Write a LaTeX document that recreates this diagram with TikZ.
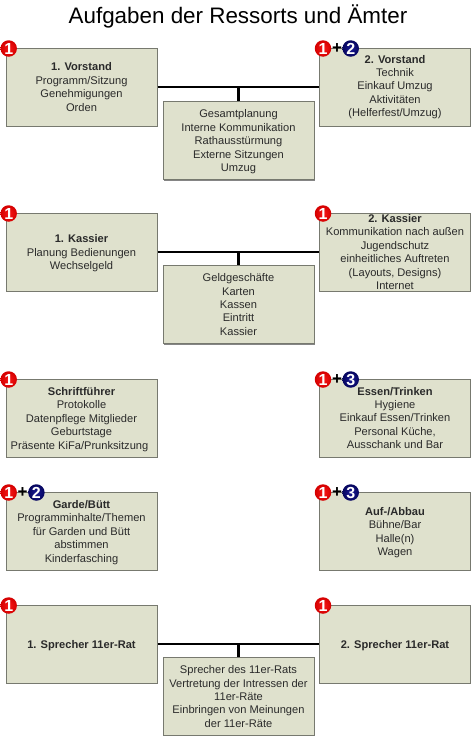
\documentclass[tikz,border=0pt]{standalone}
\usepackage{fontspec}
\setmainfont{Liberation Sans}
\usetikzlibrary{shadows}
\definecolor{boxfill}{HTML}{DFE1CD}
\definecolor{boxedge}{HTML}{77796F}
\definecolor{txt}{HTML}{2A2A2A}
\definecolor{navyin}{HTML}{1A1A96}
\definecolor{navyout}{HTML}{06065E}
\definecolor{redin}{HTML}{F81818}
\definecolor{redout}{HTML}{D40000}
\newcommand{\nudgedown}{\rule{0pt}{10.9pt}}
\tikzset{
  res/.style={draw=boxedge,line width=1pt,fill=boxfill,minimum width=151pt,minimum height=78pt,inner sep=0pt,align=center,font=\fontsize{11.1}{13.4}\selectfont,text=txt,
    drop shadow={shadow xshift=0.5pt,shadow yshift=-1.2pt,fill=black!60,opacity=.8}},
  link/.style={line width=2.3pt,draw=black},
  stem/.style={line width=3.2pt,draw=black},
  badge/.style={circle,minimum size=16.5pt,inner sep=0pt,text=white,font=\fontsize{16}{16}\bfseries\selectfont},
  redbadge/.style={badge,shading=radial,inner color=redin,outer color=redout},
  bluebadge/.style={badge,shading=radial,inner color=navyin,outer color=navyout},
  plusmark/.style={inner sep=0pt,text=black,font=\fontsize{17}{17}\bfseries\selectfont},
  titletext/.style={font=\fontsize{22.4}{24}\selectfont,text=black,inner sep=0pt}
}
\begin{document}
\begin{tikzpicture}[x=1pt,y=-1pt]
\useasboundingbox (0,0) rectangle (471,736);
\node[titletext] (title) at (238,16.5) {Aufgaben der Ressorts und Ämter};
% Row 1
\node[res] (v1) at (81.5,87) {\textbf{1. Vorstand}\\Programm/Sitzung\\Genehmigungen\\Orden};
\node[res] (v2) at (395,87) {\textbf{2. Vorstand}\\Technik\\Einkauf Umzug\\Aktivitäten\\(Helferfest/Umzug)};
\node[res] (vc) at (238.5,140.5) {\nudgedown Gesamtplanung\\Interne Kommunikation\\Rathausstürmung\\Externe Sitzungen\\Umzug};
\draw[link] (v1.east) -- (v2.west);
\coordinate (vj) at (vc.north |- v1.east);
\draw[stem] (vj) -- (vc.north);
% Row 2
\node[res] (k1) at (81.5,252) {\nudgedown\textbf{1. Kassier}\\Planung Bedienungen\\Wechselgeld};
\node[res] (k2) at (395,252) {\textbf{2. Kassier}\\Kommunikation nach außen\\Jugendschutz\\einheitliches Auftreten\\(Layouts, Designs)\\Internet};
\node[res] (kc) at (238.5,304.5) {Geldgeschäfte\\Karten\\Kassen\\Eintritt\\Kassier};
\draw[link] (k1.east) -- (k2.west);
\coordinate (kj) at (kc.north |- k1.east);
\draw[stem] (kj) -- (kc.north);
% Row 3
\node[res] (sf) at (81.5,418) {\nudgedown\textbf{Schriftführer}\\Protokolle\\Datenpflege Mitglieder\\Geburtstage\\Präsente KiFa/Prunksitzung\kern4pt};
\node[res] (et) at (395,418) {\textbf{Essen/Trinken}\\Hygiene\\Einkauf Essen/Trinken\\Personal Küche,\\Ausschank und Bar};
% Row 4
\node[res] (gb) at (81.5,531) {\nudgedown\textbf{Garde/Bütt}\\Programminhalte/Themen\\für Garden und Bütt\\abstimmen\\Kinderfasching};
\node[res] (ab) at (395,531) {\nudgedown\textbf{Auf-/Abbau}\\Bühne/Bar\\Halle(n)\\Wagen};
% Row 5
\node[res] (s1) at (81.5,644) {\nudgedown\textbf{1. Sprecher 11er-Rat}};
\node[res] (s2) at (395,644) {\nudgedown\textbf{2. Sprecher 11er-Rat}};
\node[res] (sc) at (238.5,696.5) {Sprecher des 11er-Rats\\Vertretung der Intressen der\\11er-Räte\\Einbringen von Meinungen\\der 11er-Räte};
\draw[link] (s1.east) -- (s2.west);
\coordinate (sj) at (sc.north |- s1.east);
\draw[stem] (sj) -- (sc.north);
% Badges
\node[redbadge] (b1) at (8.7,48.5) {1};
\node[redbadge] (b2) at (323,48.5) {1};
\node[plusmark] (p2) at (337,49) {+};
\node[bluebadge] (c2) at (350.7,48.5) {2};
\node[redbadge] (b3) at (8.7,213.5) {1};
\node[redbadge] (b4) at (323,213.5) {1};
\node[redbadge] (b5) at (8.7,379.5) {1};
\node[redbadge] (b6) at (323,379.5) {1};
\node[plusmark] (p6) at (337,380) {+};
\node[bluebadge] (c6) at (350.7,379.5) {3};
\node[redbadge] (b7) at (8.7,492.5) {1};
\node[plusmark] (p7) at (22.7,493) {+};
\node[bluebadge] (c7) at (36.4,492.5) {2};
\node[redbadge] (b8) at (323,492.5) {1};
\node[plusmark] (p8) at (337,493) {+};
\node[bluebadge] (c8) at (350.7,492.5) {3};
\node[redbadge] (b9) at (8.7,605.5) {1};
\node[redbadge] (b10) at (323,605.5) {1};
\end{tikzpicture}
\end{document}
